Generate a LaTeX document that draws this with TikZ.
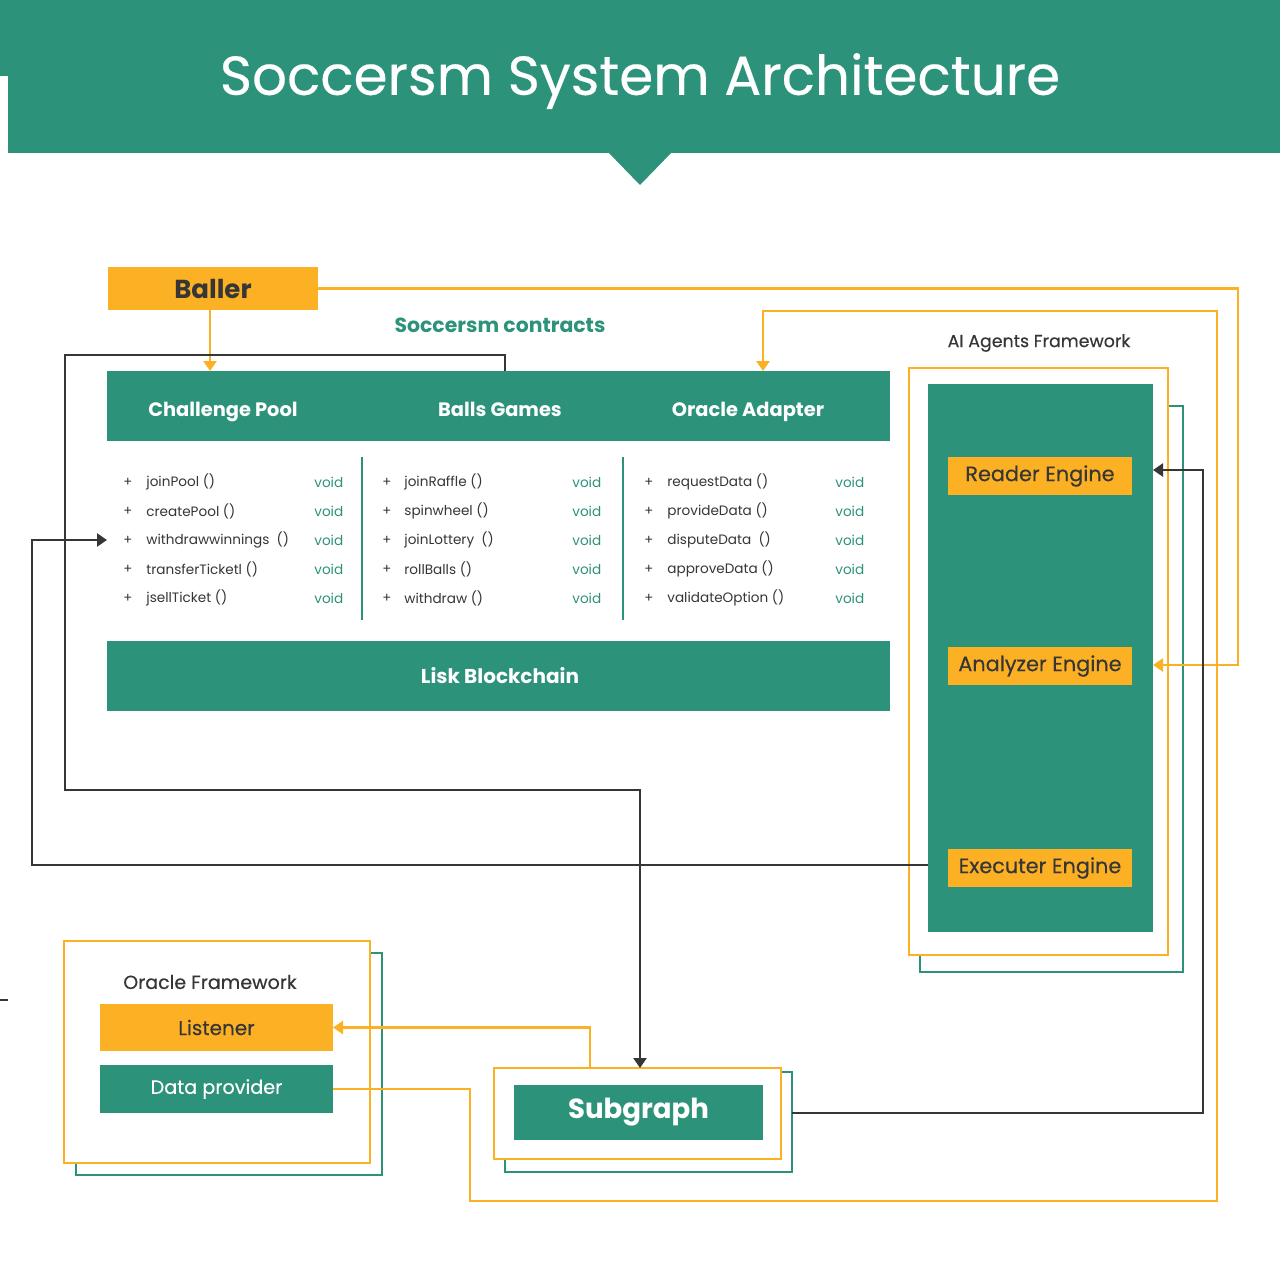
\documentclass[tikz,border=0pt]{standalone}
\usepackage{fontspec}
\setmainfont{Poppins}
\usetikzlibrary{arrows.meta}
\definecolor{sgreen}{HTML}{2D927A}
\definecolor{sorange}{HTML}{FCB024}
\definecolor{sdark}{HTML}{363636}
\newcommand{\fs}[1]{\fontsize{#1}{#1}\selectfont}
\newcommand{\med}{\addfontfeature{FakeBold=0.35}}
\tikzset{
  blk/.style={inner sep=0pt, outer sep=0pt, draw=none},
  gbox/.style={blk, fill=sgreen, text=white},
  obox/.style={blk, fill=sorange, text=sdark},
  oframe/.style={draw=sorange, line width=0.8pt, fill=white},
  tframe/.style={draw=sgreen, line width=0.8pt},
  oline/.style={draw=sorange, line width=1.3pt},
  dline/.style={draw=sdark, line width=1.3pt},
  arr/.style={-{Triangle[width=6.5pt,length=5pt]}},
  meth/.style={anchor=west, inner sep=0pt, text=sdark, font=\fs{6.8}},
  voidtxt/.style={anchor=west, inner sep=0pt, text=sgreen, font=\fs{6.8}},
  plus/.style={inner sep=0pt, text=sdark, font=\fs{6.6}},
  bartitle/.style={text=white, anchor=base, font=\bfseries\fs{9.7}},
  engine/.style={obox, minimum width=92pt, minimum height=19pt, font=\med\fs{10.4}},
}
\begin{document}
\begin{tikzpicture}[x=0.5pt,y=-0.5pt]
\useasboundingbox (0,0) rectangle (1280,1280);
\fill[white] (0,0) rectangle (1280,1280);
% header
\fill[sgreen] (0,0) rectangle (1280,76);
\fill[sgreen] (8,0) rectangle (1280,153);
\fill[sgreen] (608,152) -- (672,152) -- (640,185) -- cycle;
\node[text=white, font=\med\fs{27.4}] (title) at (640,81) {Soccersm System Architecture};
\draw[sdark, line width=0.6pt] (0,1000) -- (8,1000);

% Baller
\node[obox, minimum width=105pt, minimum height=21.5pt, font=\bfseries\fs{13}] (baller) at (213,288.5) {Baller};
\node[text=sgreen, font=\bfseries\fs{10.2}] (sclabel) at (500,325) {Soccersm contracts};

% contracts bar
\node[gbox, minimum width=391.5pt, minimum height=35pt] (bar) at (498.5,406) {};
\node[bartitle] (cp) at (223,416) {Challenge Pool};
\node[bartitle] (bg) at (500,416) {Balls Games};
\node[bartitle] (oa) at (748,416) {Oracle Adapter};
\coordinate (bgtop) at (505,371);
\coordinate (oatop) at (763,371);

% methods
\foreach \y/\a/\b/\c [count=\i] in {
  482/joinPool ()/joinRaffle ()/requestData (),
  511/createPool ()/spinwheel ()/provideData (),
  540/withdrawwinnings\ \ ()/joinLottery\ \ ()/disputeData\ \ (),
  569/transferTicketl ()/rollBalls ()/approveData (),
  598/jsellTicket ()/withdraw ()/validateOption ()}{
  \node[plus] (pa\i) at (128,\y) {+};
  \node[meth] (ma\i) at (146,\y) {\a};
  \node[voidtxt] (va\i) at (314,\y) {void};
  \node[plus] (pb\i) at (387,\y) {+};
  \node[meth] (mb\i) at (404,\y) {\b};
  \node[voidtxt] (vb\i) at (572,\y) {void};
  \node[plus] (pc\i) at (649,\y) {+};
  \node[meth] (mc\i) at (667,\y) {\c};
  \node[voidtxt] (vc\i) at (835,\y) {void};
}
\draw[sgreen, line width=1pt] (362,457) -- (362,620);
\draw[sgreen, line width=1pt] (623,457) -- (623,620);

% Lisk
\node[gbox, minimum width=391.5pt, minimum height=35pt] (lisk) at (498.5,676) {};
\node[bartitle, font=\bfseries\fs{10}] (lisklabel) at (500,683) {Lisk Blockchain};

% AI agents framework
\node[text=sdark, font=\med\fs{8.7}] (ailabel) at (1039,343) {AI Agents Framework};
\draw[tframe] (920,406) rectangle (1183,972);
\node[oframe, minimum width=129.5pt, minimum height=293.5pt, inner sep=0pt, outer sep=0pt] (aiframe) at (1038.5,661.5) {};
\node[gbox, minimum width=112.5pt, minimum height=274pt] (aig) at (1040.5,658) {};
\node[engine] (reader) at (1040,476) {Reader Engine};
\node[engine] (analyzer) at (1040,666) {Analyzer Engine};
\node[engine] (executer) at (1040,868) {Executer Engine};

% Oracle framework
\draw[tframe] (76,953) rectangle (382,1175);
\node[oframe, minimum width=153pt, minimum height=111pt, inner sep=0pt, outer sep=0pt] (ofr) at (217,1052) {};
\node[text=sdark, font=\med\fs{9.5}] (oflabel) at (210,982) {Oracle Framework};
\node[obox, minimum width=116.5pt, minimum height=23.5pt, font=\med\fs{10}] (listener) at (216.5,1027.5) {Listener};
\node[gbox, minimum width=116.5pt, minimum height=24pt, font=\med\fs{9.6}] (dp) at (216.5,1089) {Data provider};

% Subgraph
\draw[tframe] (505,1072) rectangle (792,1172);
\node[oframe, minimum width=143.5pt, minimum height=45.5pt, inner sep=0pt, outer sep=0pt] (sgo) at (637.5,1113.5) {};
\node[gbox, minimum width=124.5pt, minimum height=27.5pt, font=\bfseries\fs{13.8}] (sg) at (638.5,1112.5) {Subgraph};
\coordinate (sgtop) at (640,1068);
\coordinate (sgright) at (792,1113);
\coordinate (sglst) at (590,1068);

% connectors
\draw[oline, arr] (baller.south -| 210,0) -- (210,371);
\draw[oline, arr] (baller.east) -- (1238,288.5) |- (aig.east |- 0,665);
\draw[oline, arr] (dp.east) -| (470,1201) -| (1217,311) -| (oatop);
\draw[dline, arr] (bgtop) -- (505,355) -| (65,790) -| (sgtop);
\draw[dline, arr] (aig.west |- 0,865) -- (32,865) |- (bar.west |- ma3);
\draw[dline, arr] (sgright) -| (1203,470) -- (aig.east |- 0,470);
\draw[oline, arr] (sglst) |- (listener.east);
\end{tikzpicture}
\end{document}
